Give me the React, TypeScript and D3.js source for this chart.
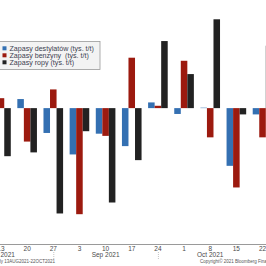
import React, { useEffect, useRef } from 'react';
import * as d3 from 'd3';

// weekly EIA changes (tys. t/t)
const weeks = ['2021-08-13', '2021-08-20', '2021-08-27', '2021-09-03', '2021-09-10', '2021-09-17',
  '2021-09-24', '2021-10-01', '2021-10-08', '2021-10-15', '2021-10-22'];
const tickLabels = ['13', '20', '27', '3', '10', '17', '24', '1', '8', '15', '22'];
const distillates = [-2700, 620, -1700, -3170, -1750, -2600, 390, -400, 30, -3950, -430];
const gasoline = [680, -2290, 1280, -7260, -1900, 3450, 160, 3240, -2000, -5430, -2000];
const crude = [-3290, -3030, -7210, -1580, -6460, -3560, 4590, 2330, 6080, -430, 4270];
const seriesNames = ['Zapasy destylatów (tys. t/t)', 'Zapasy benzyny  (tys. t/t)', 'Zapasy ropy (tys. t/t)'];
const seriesColors = ['#3470b2', '#9c1a0f', '#222222'];
const monthWeeks = ['2021-08-13', '2021-09-10', '2021-10-08'];
const monthLabels = ['Aug 2021', 'Sep 2021', 'Oct 2021'];
const monthEnds = ['2021-08-27', '2021-09-24'];

function App() {
  const ref = useRef<SVGSVGElement>(null);

  useEffect(() => {
    const svg = d3.select(ref.current);
    svg.selectAll('*').remove();
    const width = 266;
    const axisY = 244;
    const font = 'Liberation Sans, Arial, sans-serif';

    const series = [distillates, gasoline, crude];

    const x = d3.scaleBand<string>()
      .domain(weeks)
      .range([-12.1, 275.6])
      .paddingInner(0.25)
      .paddingOuter(0.125);

    const xs = d3.scaleBand<number>()
      .domain([0, 1, 2])
      .range([0, x.bandwidth()]);

    const y = d3.scaleLinear()
      .domain([-9300, 7400])
      .range([axisY, 0]);

    svg.append('rect')
      .attr('width', width).attr('height', 266)
      .attr('fill', '#ffffff');

    // bars
    const groups = svg.append('g')
      .selectAll('g')
      .data(weeks)
      .join('g')
      .attr('transform', d => 'translate(' + x(d) + ',0)');

    groups.selectAll('rect')
      .data((d, i) => series.map((s, k) => ({ k: k, v: s[i] })))
      .join('rect')
      .attr('x', d => xs(d.k) as number)
      .attr('width', xs.bandwidth())
      .attr('y', d => y(Math.max(0, d.v)))
      .attr('height', d => Math.abs(y(d.v) - y(0)))
      .attr('fill', d => seriesColors[d.k]);

    // x axis
    const axis = svg.append('g')
      .attr('transform', 'translate(0,' + axisY + ')')
      .call(d3.axisBottom(x).tickSize(0).tickPadding(2.4)
        .tickFormat((d, i) => tickLabels[i]));
    axis.select('.domain').remove();
    axis.selectAll('text')
      .attr('fill', '#4a4a4a')
      .style('font-family', font)
      .style('font-size', '6.5px');

    svg.append('line')
      .attr('x1', 0).attr('x2', width)
      .attr('y1', axisY + 0.5).attr('y2', axisY + 0.5)
      .attr('stroke', '#9a9a9a')
      .attr('stroke-width', 1);

    // month labels
    svg.append('g')
      .selectAll('text')
      .data(monthWeeks)
      .join('text')
      .attr('x', d => (x(d) as number) + x.bandwidth() / 2)
      .attr('y', 257)
      .attr('text-anchor', 'middle')
      .attr('fill', '#4a4a4a')
      .style('font-family', font)
      .style('font-size', '6.5px')
      .text((d, i) => monthLabels[i]);

    svg.append('g')
      .selectAll('line')
      .data(monthEnds)
      .join('line')
      .attr('x1', d => (x(d) as number) + x.bandwidth() / 2 + 0.5)
      .attr('x2', d => (x(d) as number) + x.bandwidth() / 2 + 0.5)
      .attr('y1', 252).attr('y2', 260)
      .attr('stroke', '#c4c4c4')
      .attr('stroke-dasharray', '1,1');

    // footer
    svg.append('text')
      .attr('x', 55).attr('y', 263)
      .attr('text-anchor', 'end')
      .attr('fill', '#555')
      .style('font-family', font)
      .style('font-size', '4.5px')
      .text('Weekly 13AUG2021-22OCT2021');

    svg.append('text')
      .attr('x', 200).attr('y', 263)
      .attr('fill', '#555')
      .style('font-family', font)
      .style('font-size', '4.5px')
      .text('Copyright© 2021 Bloomberg Finance L.P.');

    // legend
    const legend = svg.append('g');
    legend.append('rect')
      .attr('x', -1).attr('y', 41.5)
      .attr('width', 101).attr('height', 28)
      .attr('fill', '#f3f3f3')
      .attr('stroke', '#9a9a9a')
      .attr('stroke-width', 0.8);

    const rows = legend.selectAll('g')
      .data(seriesNames)
      .join('g')
      .attr('transform', (d, i) => 'translate(0,' + (48.3 + i * 7) + ')');

    rows.append('rect')
      .attr('x', 2.5).attr('y', -2)
      .attr('width', 4).attr('height', 4)
      .attr('fill', (d, i) => seriesColors[i]);

    rows.append('text')
      .attr('x', 9.5).attr('y', 2.4)
      .attr('fill', '#3c4150')
      .style('font-family', font)
      .style('font-size', '7.1px')
      .style('white-space', 'pre')
      .text(d => d);
  }, []);

  return (
    <svg ref={ref} width="266" height="266"
      style={{ position: 'absolute', left: 0, top: 0, display: 'block' }} />
  );
}

export default App;
